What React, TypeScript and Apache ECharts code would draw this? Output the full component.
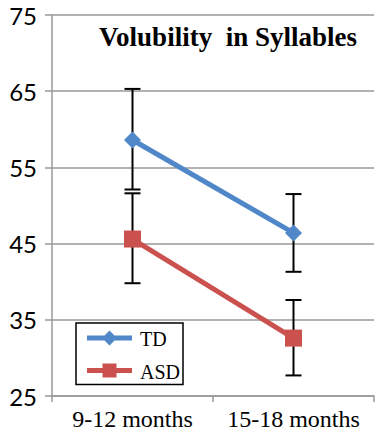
import React, { useEffect, useRef } from "react";
import * as echarts from "echarts";

const categories = ["9-12 months", "15-18 months"];
const seriesNames = ["TD", "ASD"];
const tdValues = [58.6, 46.4];
const asdValues = [45.6, 32.6];
const tdLow = [52.1, 41.3];
const tdHigh = [65.3, 51.5];
const asdLow = [39.8, 27.7];
const asdHigh = [51.6, 37.6];
const titleText = "Volubility  in Syllables";

const BLUE = "#4F87C9";
const RED = "#CB514E";
const SERIF = "Liberation Serif";

const TD_ICON = "path://M0 5.5L45 5.5L45 10.5L0 10.5Z M22.5 0.5L30 8L22.5 15.5L15 8Z";
const ASD_ICON = "path://M0 5.5L45 5.5L45 10.5L0 10.5Z M15.5 1L29.5 1L29.5 15L15.5 15Z";

function errorData(low: number[], high: number[]) {
  return low.map((l, i) => [i, l, high[i]]);
}

function renderError(params: any, api: any) {
  const x = api.value(0);
  const lo = api.coord([x, api.value(1)]);
  const hi = api.coord([x, api.value(2)]);
  const hw = 8;
  const style = { stroke: "#000", lineWidth: 2 };
  return {
    type: "group",
    children: [
      { type: "line", shape: { x1: lo[0], y1: lo[1], x2: hi[0], y2: hi[1] }, style },
      { type: "line", shape: { x1: lo[0] - hw, y1: lo[1], x2: lo[0] + hw, y2: lo[1] }, style },
      { type: "line", shape: { x1: hi[0] - hw, y1: hi[1], x2: hi[0] + hw, y2: hi[1] }, style },
    ],
  };
}

export default function App() {
  const ref = useRef<HTMLDivElement>(null);
  useEffect(() => {
    if (!ref.current) return;
    const chart = echarts.init(ref.current, null, { renderer: "svg" });
    chart.setOption({
      animation: false,
      backgroundColor: "#fff",
      grid: { left: 52, right: 2, top: 15, bottom: 45, containLabel: false },
      legend: {
        orient: "vertical",
        left: 76,
        top: 323,
        padding: [7, 51, 7, 11],
        itemGap: 17,
        itemWidth: 45,
        itemHeight: 16,
        borderColor: "#000",
        borderWidth: 1.5,
        backgroundColor: "#fff",
        formatter: () => "",
        data: [
          { name: seriesNames[0], icon: TD_ICON, itemStyle: { color: BLUE } },
          { name: seriesNames[1], icon: ASD_ICON, itemStyle: { color: RED } },
        ],
        textStyle: { fontSize: 10, color: "#000", padding: 0 },
      },
      xAxis: {
        type: "category",
        data: categories,
        boundaryGap: true,
        axisLine: { show: true, lineStyle: { color: "#999", width: 1.5 } },
        axisTick: { show: true, interval: 0, length: 6, lineStyle: { color: "#999", width: 1.5 } },
        axisLabel: { show: false },
        splitLine: { show: false },
      },
      yAxis: {
        type: "value",
        min: 25,
        max: 75,
        interval: 10,
        axisLine: { show: true, lineStyle: { color: "#999", width: 1.5 } },
        axisTick: { show: true, length: 7, lineStyle: { color: "#999", width: 1.5 } },
        axisLabel: { fontFamily: "Lato", fontSize: 24, color: "#000", margin: 15 },
        splitLine: { show: true, lineStyle: { color: "#999", width: 1.5 } },
      },
      series: [
        {
          type: "custom",
          name: "TD err",
          renderItem: renderError,
          data: errorData(tdLow, tdHigh),
          encode: { x: 0, y: [1, 2] },
          z: 1,
          silent: true,
        },
        {
          type: "custom",
          name: "ASD err",
          renderItem: renderError,
          data: errorData(asdLow, asdHigh),
          encode: { x: 0, y: [1, 2] },
          z: 1,
          silent: true,
        },
        {
          type: "line",
          name: seriesNames[0],
          data: tdValues,
          symbol: "diamond",
          symbolSize: 17,
          lineStyle: { color: BLUE, width: 5 },
          itemStyle: { color: BLUE },
          z: 3,
        },
        {
          type: "line",
          name: seriesNames[1],
          data: asdValues,
          symbol: "rect",
          symbolSize: 17,
          lineStyle: { color: RED, width: 5 },
          itemStyle: { color: RED },
          z: 3,
        },
      ],
    });

    const catLabels = categories.map((c, i) => {
      const px = chart.convertToPixel({ xAxisIndex: 0 }, i) as number;
      return {
        type: "text",
        x: px,
        y: 419,
        z: 10,
        style: {
          text: c,
          font: "24px " + SERIF,
          fill: "#000",
          textAlign: "center",
          textVerticalAlign: "middle",
        },
      };
    });

    chart.setOption({
      graphic: [
        {
          type: "text",
          x: 228,
          y: 37,
          z: 10,
          style: {
            text: titleText,
            font: "bold 27px " + SERIF,
            fill: "#000",
            textAlign: "center",
            textVerticalAlign: "middle",
          },
        },
        {
          type: "text",
          x: 140,
          y: 339,
          z: 10,
          style: { text: seriesNames[0], font: "20px " + SERIF, fill: "#000", textVerticalAlign: "middle" },
        },
        {
          type: "text",
          x: 140,
          y: 372,
          z: 10,
          style: { text: seriesNames[1], font: "20px " + SERIF, fill: "#000", textVerticalAlign: "middle" },
        },
        ...catLabels,
      ],
    });
    return () => chart.dispose();
  }, []);
  return <div ref={ref} style={{ width: 376, height: 441, position: "fixed", left: 0, top: 0 }} />;
}
